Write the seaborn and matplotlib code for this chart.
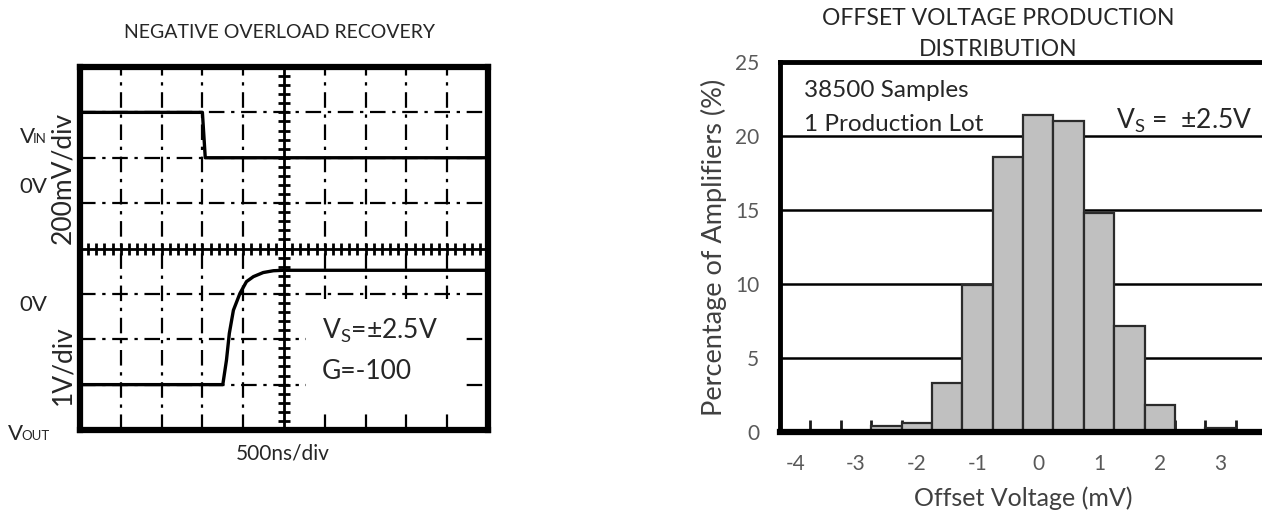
import numpy as np
import pandas as pd
import seaborn as sns
import matplotlib.pyplot as plt
from matplotlib.patches import Rectangle

# --- left panel: scope traces (divisions) ---
vin_t = [0, 3.0, 3.07, 10]
vin_v = [7, 7, 6, 6]
vout_t = [0, 3.50, 3.59, 3.66, 3.76, 3.92, 4.08, 4.25, 4.49, 4.74, 4.98, 10]
vout_v = [1, 1.0, 1.54, 2.13, 2.64, 3.01, 3.27, 3.38, 3.47, 3.51, 3.52, 3.52]

# --- right panel: offset voltage histogram ---
bin_centers = [-2.5, -2.0, -1.5, -1.0, -0.5, 0.0, 0.5, 1.0, 1.5, 2.0, 2.5, 3.0]
pct = [0.39, 0.61, 3.3, 9.95, 18.6, 21.4, 21.0, 14.8, 7.16, 1.82, 0.1, 0.3]
x_ticks = [-4, -3, -2, -1, 0, 1, 2, 3]
y_ticks = [0, 5, 10, 15, 20, 25]

sns.set_theme(style="white")
plt.rcParams['font.family'] = ['Lato', 'DejaVu Sans']
plt.rcParams['axes.unicode_minus'] = False

fig = plt.figure(figsize=(12.62, 5.18), dpi=100)
W, H = 1262, 518


def px(x, y):
    return x / W, 1 - y / H


# ---------------- left: negative overload recovery ----------------
ax1 = fig.add_axes([80 / W, 1 - 430 / H, 408 / W, 363 / H])
dashdot = (0, (7, 3, 1.5, 3))
for gx in range(1, 10):
    if gx != 5:
        ax1.axvline(gx, color='black', lw=1.6, ls=dashdot, zorder=1)
for gy in range(1, 8):
    if gy != 4:
        ax1.axhline(gy, color='black', lw=1.6, ls=dashdot, zorder=1)
ax1.axvline(5, color='black', lw=2, zorder=1)
ax1.axhline(4, color='black', lw=2, zorder=1)
ax1.plot(np.arange(0, 10.01, 0.2), np.full(51, 4), ls='none', marker='|',
         ms=9, mew=2, color='black', zorder=1)
ax1.plot(np.full(41, 5), np.arange(0, 8.01, 0.2), ls='none', marker='_',
         ms=9, mew=2, color='black', zorder=1)

# white panel behind the annotation, as in the scope capture
ax1.add_patch(Rectangle((5.55, 0.45), 3.85, 2.43, facecolor='white',
                        edgecolor='none', zorder=2))

traces = pd.concat([
    pd.DataFrame({'t': vin_t, 'v': vin_v, 'sig': 'VIN'}),
    pd.DataFrame({'t': vout_t, 'v': vout_v, 'sig': 'VOUT'}),
])
sns.lineplot(data=traces, x='t', y='v', units='sig', estimator=None,
             sort=False, color='black', lw=2.4, ax=ax1, zorder=3)

ax1.set_xlim(0, 10)
ax1.set_ylim(0, 8)
ax1.set_xticks([])
ax1.set_yticks([])
ax1.set_xlabel('')
ax1.set_ylabel('')
for s in ax1.spines.values():
    s.set_visible(True)
    s.set_color('black')
    s.set_linewidth(4.5)

ax1.text(5.93, 2.18, 'V$\\mathregular{_S}$=\u00b12.5V', fontsize=19,
         va='center', ha='left', zorder=4)
ax1.text(5.93, 1.28, 'G=-100', fontsize=19, va='center', ha='left', zorder=4)

fig.text(*px(280, 33), 'NEGATIVE OVERLOAD RECOVERY', fontsize=14,
         ha='center', va='center')
fig.text(*px(283, 453), '500ns/div', fontsize=15, ha='center', va='center')
fig.text(*px(63, 178), '200mV/div', fontsize=19, rotation=90,
         ha='center', va='center')
fig.text(*px(63, 365), '1V/div', fontsize=19, rotation=90,
         ha='center', va='center')
fig.text(*px(19, 187), '0V', fontsize=16, ha='left', va='center')
fig.text(*px(19, 305), '0V', fontsize=16, ha='left', va='center')
fig.text(*px(20, 143), 'V', fontsize=16, ha='left', va='baseline')
fig.text(*px(33, 143), 'IN', fontsize=9.5, ha='left', va='baseline')
fig.text(*px(8, 440), 'V', fontsize=16, ha='left', va='baseline')
fig.text(*px(21, 440), 'OUT', fontsize=9.5, ha='left', va='baseline')

# ---------------- right: offset voltage distribution ----------------
ax2 = fig.add_axes([780 / W, 1 - 432 / H, 486 / W, 370 / H])
for gy in y_ticks[1:-1]:
    ax2.axhline(gy, color='black', lw=1.8, zorder=0)
hist_df = pd.DataFrame({'offset': bin_centers, 'pct': pct})
sns.histplot(data=hist_df, x='offset', weights='pct', binwidth=0.5,
             binrange=(-2.75, 3.25), color='#c0c0c0', edgecolor='#2b2b2b',
             linewidth=1.6, alpha=1, ax=ax2, zorder=2)
ax2.set_xlim(-4.25, 3.75)
ax2.set_ylim(0, 25)
ax2.set_xticks(x_ticks)
ax2.set_yticks(y_ticks)
ax2.set_xticks(np.arange(-3.75, 3.3, 0.5), minor=True)
ax2.tick_params(axis='both', which='major', length=0, labelsize=15,
                labelcolor='#595959')
ax2.tick_params(axis='x', which='major', pad=16)
ax2.tick_params(axis='y', which='major', pad=15)
ax2.tick_params(axis='x', which='minor', direction='in', length=9,
                width=2, color='#1a1a1a', bottom=True)
ax2.set_xlabel('Offset Voltage (mV)', fontsize=18, color='#404040',
               labelpad=9)
ax2.set_ylabel('Percentage of Amplifiers (%)', fontsize=19.5,
               color='#404040', labelpad=6)
ax2.set_title('OFFSET VOLTAGE PRODUCTION\nDISTRIBUTION', fontsize=16.5,
              pad=4, linespacing=1.6, x=(998 - 780) / 486)
for s in ax2.spines.values():
    s.set_visible(True)
    s.set_color('black')
    s.set_linewidth(3.5)
ax2.spines['bottom'].set_linewidth(4.5)

ax2.text(-3.85, 23.1, '38500 Samples', fontsize=17.5, va='center', ha='left')
ax2.text(-3.85, 20.8, '1 Production Lot', fontsize=17.5, va='center',
         ha='left')
ax2.text(3.52, 21.0, 'V$_\\mathregular{S}$ =  \u00b12.5V', fontsize=19,
         va='center', ha='right')

fig.savefig('out.png', dpi=100)
